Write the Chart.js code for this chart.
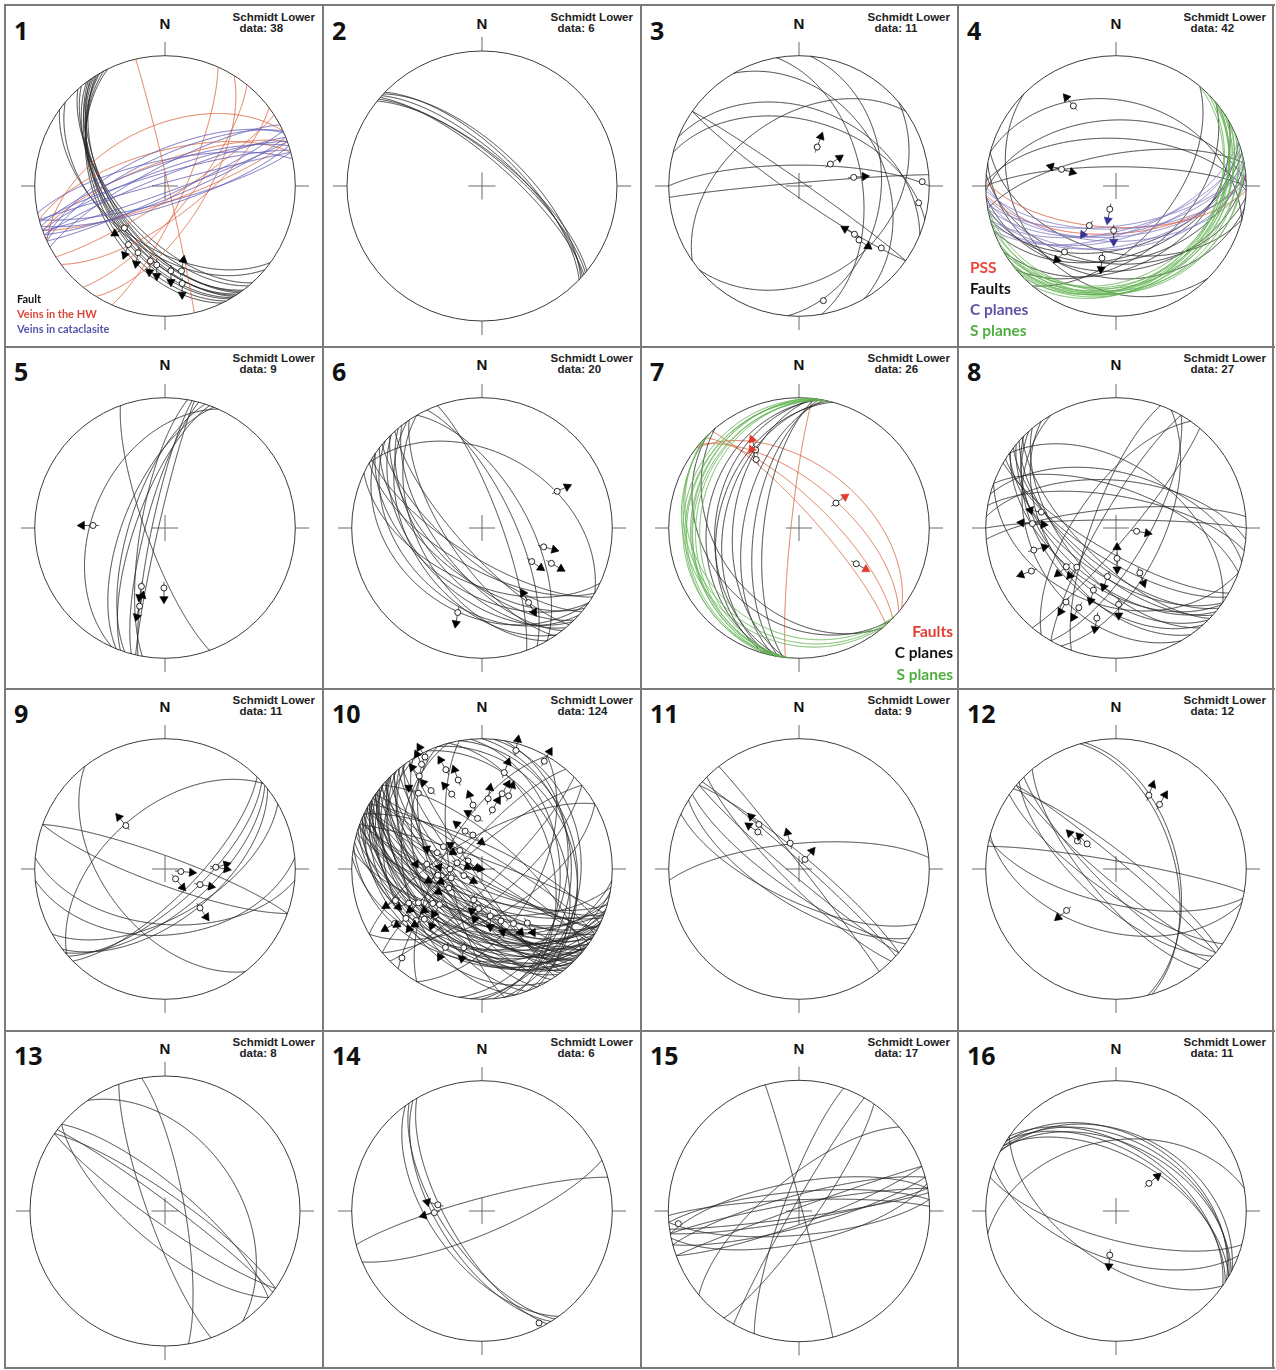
<!DOCTYPE html>
<html>
<head>
<meta charset="utf-8">
<script src="https://cdn.jsdelivr.net/npm/chart.js@4.4.1/dist/chart.umd.min.js"></script>
<style>
  body { margin: 0; background: #fff; }
  #page { position: relative; width: 1276px; height: 1370px; background: #fff; overflow: hidden; }
  .box { position: absolute; }
  .ln { position: absolute; background: #7a7a7a; }
</style>
</head>
<body>
<div id="page"></div>
<script>
// planes are [dip direction, dip], lineations are [trend, plunge, arrow azimuth, second arrow azimuth]
const p1Fault = [[238,55],[236,52],[240,50],[235,57],[233,54],[242,48],[230,58],[237,53],[239,51],[228,60],[244,46],[234,56],[220,50],[216,52]];
const p1VeinHW = [[77,88],[114,78],[129,74],[143,70],[147,82],[335,52],[340,75],[160,80],[122,65],[345,68]];
const p1VeinCat = [[340,80],[338,84],[342,76],[160,86],[158,82],[335,72],[345,88],[162,78],[336,68],[344,82],[155,84],[348,74],[332,78],[165,80]];
const p1Lin = [[224,53,240],[212,46,200],[202,44,190],[191,41,185],[186,39,180],[176,35,180],[170,25,180],[169,34,10]];

const p2Planes = [[42,70],[40,72],[44,68],[41,74],[43,66],[39,71]];

const p3Planes = [[35,87],[215,84],[0,77],[355,88],[15,48],[22,40],[60,35],[95,37],[80,50],[325,46],[140,30]];
const p3Lin = [[25,63,20],[55,66,55],[81,55,85],[88,6,null],[98,8,null],[131,43,300],[132,38,125],[127,22,null],[168,11,null]];

const p4PSS = [[182,64],[176,60]];
const p4Fault = [[0,78],[2,60],[358,48],[15,35],[225,25],[150,38],[160,45],[170,42],[165,50],[185,40],[175,35],[140,45],[195,48],[130,55],[350,70],[190,30]];
const p4CPlane = [[170,60],[175,58],[165,62],[180,55],[172,65],[168,52],[160,60],[178,63],[163,57],[174,50]];
const p4SPlane = [[140,25],[145,22],[150,24],[135,28],[155,20],[142,26],[148,30],[138,23],[152,27],[165,19],[160,24],[130,26],[170,21],[143,28]];
const p4LinFault = [[332,31,320],[287,54,285,105],[218,36,225],[191,43,185]];
const p4LinC = [[195,75,190],[214,60,215],[183,62,180]];

const p5Planes = [[282,82],[285,78],[290,72],[288,68],[280,75],[292,64],[283,86],[250,78],[294,44]];
const p5Lin = [[272,44,270],[202,50,190],[181,52,180],[198,37,195,15]];

const p6Planes = [[30,42],[220,70],[225,60],[230,55],[215,50],[235,45],[210,65],[228,75],[222,40],[232,62],[218,58],[240,50],[212,72],[226,48],[236,68],[205,55],[65,70],[70,78],[60,62],[215,35]];
const p6Lin = [[64,36,65],[107,49,105],[124,52,125],[117,40,120],[148,33,330,150],[196,33,190]];

const p7Fault = [[40,62],[44,72],[38,50],[48,80],[276,85]];
const p7CPlane = [[280,30],[278,36],[283,42],[276,48],[281,55],[285,38],[279,62],[225,30],[277,68],[230,38]];
const p7SPlane = [[278,12],[280,15],[276,18],[282,20],[279,22],[284,14],[277,25],[225,18],[222,22],[228,15],[274,19]];
const p7Lin = [[56,62,55],[122,47,120],[331,32,340],[328,38,335]];

const p8Planes = [[215,60],[220,55],[225,50],[218,65],[212,70],[228,45],[222,62],[230,58],[216,52],[210,75],[235,48],[224,68],[290,75],[305,65],[115,60],[10,70],[5,60],[355,78],[15,55],[0,85],[20,65],[300,80],[120,70],[130,82],[35,50],[200,40],[240,35]];
const p8Lin = [[282,41,280],[273,36,275,95],[99,77,100],[178,71,0,180],[243,28,250],[255,35,75],[225,55,220],[232,50,230],[190,59,200],[152,58,160],[200,48,195],[214,32,210],[192,30,190],[205,33,210],[178,41,180]];

const p9Planes = [[232,52],[319,52],[138,68],[140,63],[135,72],[142,58],[20,82],[200,80],[185,55],[175,48],[150,60]];
const p9Lin = [[318,53,320],[99,80,95],[133,81,140],[114,66,100],[88,58,100,75],[138,57,145]];

const p10Planes = [[200,45],[205,50],[210,55],[215,60],[220,65],[225,70],[230,75],[198,40],[203,48],[208,58],[212,62],[218,52],[222,68],[227,72],[232,80],[236,85],[195,55],[200,62],[206,66],[211,42],[216,38],[221,35],[226,46],[231,54],[196,72],[201,78],[207,82],[213,88],[219,76],[224,58],[229,44],[234,50],[238,64],[204,36],[209,30],[214,33],[199,68],[217,47],[223,57],[228,61],[233,69],[202,74],[208,84],[215,56],[220,43],[225,39],[210,71],[205,59],[218,64],[212,49],[30,80],[25,75],[35,86],[40,70],[20,84],[70,30],[80,28],[90,32],[100,35],[85,40],[75,45],[95,25],[65,38],[140,70],[150,60],[135,80],[320,78],[330,70],[250,50],[245,60],[255,40],[260,70],[240,30],[190,30],[185,38],[192,50],[188,62],[300,65],[310,75],[120,55]];
const p10Lin = [[333,4,330],[330,8,335],[326,15,320],[327,29,315],[320,25,300],[340,20,330],[345,30,340],[338,38,320],[352,49,340],[5,45,10],[10,52,30],[355,58,300],[336,64,310],[345,68,130],[20,40,20],[15,40,30],[16,6,10],[30,5,30],[13,25,20],[284,74,110],[270,70,280],[254,70,250],[290,60,290],[300,62,120],[275,55,270],[262,62,240],[310,72,300],[250,78,120],[240,66,250],[300,80,130],[280,82,100],[242,44,230],[237,31,235],[229,41,240],[232,36,220],[245,38,250],[250,30,240],[225,48,200],[235,52,230],[238,22,240],[222,9,null],[230,55,210],[193,38,190],[205,34,210],[170,60,180],[160,55,170],[150,50,140],[140,45,150],[185,65,200],[195,70,190]];

const p11Planes = [[52,88],[40,82],[42,86],[220,85],[215,76],[212,68],[205,70],[355,74],[225,80]];
const p11Lin = [[318,52,315],[312,55,305],[341,73,345],[32,83,40]];

const p12Planes = [[76,51],[74,53],[220,82],[225,78],[40,85],[215,75],[230,72],[38,80],[222,68],[10,85],[193,68],[195,50]];
const p12Lin = [[24,38,20],[34,40,30],[311,66,315],[306,60,315],[230,49,230]];

const p13Planes = [[37,85],[35,80],[215,82],[40,75],[220,70],[55,45],[250,80],[80,78]];

const p14Planes = [[236,65],[238,62],[240,68],[157,76],[345,82],[234,58]];
const p14Lin = [[278,62,285],[268,60,255],[153,4,null]];

const p15Planes = [[350,85],[345,80],[170,84],[165,80],[355,78],[175,75],[340,88],[160,82],[350,72],[168,70],[358,83],[172,86],[75,88],[290,80],[125,80],[320,70],[300,86]];
const p15Lin = [[264,8,null]];

const p16Planes = [[30,45],[32,42],[28,48],[35,50],[27,40],[33,53],[30,56],[195,72],[215,58],[350,45],[200,60]];
const p16Lin = [[50,63,50],[188,62,185]];

const dataCounts = [38, 6, 11, 42, 9, 20, 26, 27, 11, 124, 9, 12, 8, 6, 17, 11];

const BLACK = '#262626';
const RED = '#d9653f';
const BLUE = '#5d59b2';
const PSSRED = '#e0573f';
const CPURP = '#7f77bf';
const SGREEN = '#63b352';

const panels = [
  { sets: [[p1VeinCat, BLUE], [p1VeinHW, RED], [p1Fault, BLACK]], lins: [[p1Lin, '#000']] },
  { sets: [[p2Planes, BLACK]], lins: [] },
  { sets: [[p3Planes, BLACK]], lins: [[p3Lin, '#000']] },
  { sets: [[p4SPlane, SGREEN], [p4CPlane, CPURP], [p4PSS, PSSRED], [p4Fault, BLACK]], lins: [[p4LinFault, '#000'], [p4LinC, '#3a3396']] },
  { sets: [[p5Planes, BLACK]], lins: [[p5Lin, '#000']] },
  { sets: [[p6Planes, BLACK]], lins: [[p6Lin, '#000']] },
  { sets: [[p7SPlane, SGREEN], [p7CPlane, BLACK], [p7Fault, RED]], lins: [[p7Lin, '#e03a2c']] },
  { sets: [[p8Planes, BLACK]], lins: [[p8Lin, '#000']] },
  { sets: [[p9Planes, BLACK]], lins: [[p9Lin, '#000']] },
  { sets: [[p10Planes, BLACK]], lins: [[p10Lin, '#000']] },
  { sets: [[p11Planes, BLACK]], lins: [[p11Lin, '#000']] },
  { sets: [[p12Planes, BLACK]], lins: [[p12Lin, '#000']] },
  { sets: [[p13Planes, BLACK]], lins: [] },
  { sets: [[p14Planes, BLACK]], lins: [[p14Lin, '#000']] },
  { sets: [[p15Planes, BLACK]], lins: [[p15Lin, '#000']] },
  { sets: [[p16Planes, BLACK]], lins: [[p16Lin, '#000']] }
];

const colLeft = [5, 323, 641, 958];
const colRight = [323, 641, 958, 1274];
const rowTop = [6, 347, 689, 1031];
const centerX = [165, 482, 799, 1116];
const centerY = [186, 528, 869, 1211];
const R = 135;
const HALF = 155;
const LIM = HALF / R;

const page = document.getElementById('page');
const D2R = Math.PI / 180;

// equal-area (Schmidt) lower hemisphere
function project(trend, plunge) {
  const r = Math.SQRT2 * Math.sin((90 - plunge) * D2R / 2);
  return { x: r * Math.sin(trend * D2R), y: r * Math.cos(trend * D2R) };
}

function greatCircle(dd, dip) {
  const s = (dd - 90) * D2R, a = dd * D2R, d = dip * D2R;
  const S = [Math.sin(s), Math.cos(s), 0];
  const Dv = [Math.cos(d) * Math.sin(a), Math.cos(d) * Math.cos(a), Math.sin(d)];
  const pts = [];
  for (let k = 0; k <= 120; k++) {
    const l = k * 1.5 * D2R;
    const e = Math.cos(l) * S[0] + Math.sin(l) * Dv[0];
    const n = Math.cos(l) * S[1] + Math.sin(l) * Dv[1];
    const z = Math.cos(l) * S[2] + Math.sin(l) * Dv[2];
    const pl = Math.asin(Math.max(-1, Math.min(1, z))) / D2R;
    const tr = Math.atan2(e, n) / D2R;
    pts.push(project(tr, pl));
  }
  return pts;
}

const framePlugin = {
  id: 'stereoFrame',
  beforeDatasetsDraw(chart) {
    const { ctx, scales: { x, y } } = chart;
    const X = v => x.getPixelForValue(v), Y = v => y.getPixelForValue(v);
    const seg = (a, b, c, d) => { ctx.beginPath(); ctx.moveTo(X(a), Y(b)); ctx.lineTo(X(c), Y(d)); ctx.stroke(); };
    ctx.save();
    ctx.strokeStyle = '#6a6a6a';
    ctx.lineWidth = 1;
    seg(0, 1, 0, 1.105); seg(0, -1, 0, -1.105); seg(1, 0, 1.105, 0); seg(-1, 0, -1.105, 0);
    seg(-0.1, 0, 0.1, 0); seg(0, -0.1, 0, 0.1);
    ctx.strokeStyle = '#3a3a3a';
    ctx.beginPath();
    ctx.arc(X(0), Y(0), X(1) - X(0), 0, 2 * Math.PI);
    ctx.stroke();
    ctx.restore();
  }
};

function addText(x, base, str, size, family, weight, color, align) {
  const k = family.indexOf('Liberation') >= 0 ? 0.8465 : 0.888;
  const d = document.createElement('div');
  d.textContent = str;
  d.style.cssText = 'position:absolute;white-space:nowrap;font-family:' + family + ';font-size:' + size + 'px;font-weight:' + weight +
    ';line-height:' + size + 'px;color:' + color + ';top:' + (base - k * size) + 'px;';
  if (align === 'right') d.style.right = (1276 - x) + 'px';
  else if (align === 'center') { d.style.left = (x - 50) + 'px'; d.style.width = '100px'; d.style.textAlign = 'center'; }
  else d.style.left = x + 'px';
  page.appendChild(d);
}

function addLine(x, y, w, h) {
  const d = document.createElement('div');
  d.className = 'ln';
  d.style.left = x + 'px'; d.style.top = y + 'px'; d.style.width = w + 'px'; d.style.height = h + 'px';
  page.appendChild(d);
}

// panel frames
[5, 323, 641, 958, 1273].forEach(x => addLine(x - 0.75, 5, 1.5, 1364));
[5, 347, 689, 1031, 1368].forEach(y => addLine(4, y - 0.75, 1271, 1.5));

panels.forEach((p, i) => {
  const r = Math.floor(i / 4), c = i % 4;
  const top = rowTop[r];
  const cx = centerX[c], cy = centerY[r];

  addText(colLeft[c] + 9, top + 34, String(i + 1), 25, '"Open Sans", sans-serif', 700, '#111', 'left');
  addText(cx, top + 23, 'N', 15, '"Liberation Sans", Arial, sans-serif', 700, '#111', 'center');
  const hd = document.createElement('div');
  hd.style.cssText = 'position:absolute;font-family:"Liberation Sans",Arial,sans-serif;font-weight:700;font-size:11.5px;line-height:11px;color:#222;white-space:nowrap;top:' + (top + 5.5) + 'px;right:' + (1276 - (colRight[c] - 8)) + 'px;';
  hd.innerHTML = 'Schmidt Lower<br><span style="padding-left:7px">data: ' + dataCounts[i] + '</span>';
  page.appendChild(hd);

  const box = document.createElement('div');
  box.className = 'box';
  box.style.left = (cx - HALF) + 'px';
  box.style.top = (cy - HALF) + 'px';
  const cv = document.createElement('canvas');
  cv.width = 2 * HALF; cv.height = 2 * HALF;
  box.appendChild(cv);
  page.appendChild(box);

  const datasets = [];
  p.sets.forEach(([planes, color]) => {
    planes.forEach(([dd, dip]) => {
      // small tension keeps Chart.js off its fast path, which breaks non-monotonic curves
      datasets.push({ data: greatCircle(dd, dip), showLine: true, borderColor: color, borderWidth: 0.9,
        pointRadius: 0, tension: 0.01, order: 3 });
    });
  });
  p.lins.forEach(([lins, color]) => {
    const centers = [], heads = [], rots = [];
    lins.forEach(([tr, pl, a1, a2]) => {
      const P = project(tr, pl);
      centers.push(P);
      [a1, a2].forEach(a => {
        if (a === null || a === undefined) return;
        const hx = P.x + 0.085 * Math.sin(a * D2R), hy = P.y + 0.085 * Math.cos(a * D2R);
        const tx = P.x - 0.045 * Math.sin(a * D2R), ty = P.y - 0.045 * Math.cos(a * D2R);
        datasets.push({ data: [{ x: tx, y: ty }, { x: hx, y: hy }], showLine: true, borderColor: '#222',
          borderWidth: 0.8, pointRadius: 0, tension: 0.01, order: 2 });
        heads.push({ x: hx, y: hy });
        rots.push(a);
      });
    });
    datasets.push({ data: centers, showLine: false, pointStyle: 'circle', pointRadius: 3,
      pointBackgroundColor: '#fff', pointBorderColor: '#111', pointBorderWidth: 0.9, order: 1 });
    datasets.push({ data: heads, showLine: false, pointStyle: 'triangle', pointRadius: 4.8,
      pointRotation: rots, pointBackgroundColor: color, pointBorderColor: color, pointBorderWidth: 0.6, order: 0 });
  });

  new Chart(cv, {
    type: 'scatter',
    data: { datasets },
    options: {
      responsive: false,
      animation: false,
      events: [],
      layout: { padding: 0 },
      plugins: { legend: { display: false }, tooltip: { enabled: false } },
      scales: {
        x: { type: 'linear', min: -LIM, max: LIM, display: false },
        y: { type: 'linear', min: -LIM, max: LIM, display: false }
      }
    },
    plugins: [framePlugin]
  });
});

// legends
addText(17, 303, 'Fault', 11, 'Lato, sans-serif', 700, '#111', 'left');
addText(17, 318, 'Veins in the HW', 11, 'Lato, sans-serif', 700, '#d9473a', 'left');
addText(17, 333, 'Veins in cataclasite', 11, 'Lato, sans-serif', 700, '#5656b0', 'left');

addText(970, 274, 'PSS', 15.5, 'Lato, sans-serif', 700, '#e8473b', 'left');
addText(970, 295, 'Faults', 15.5, 'Lato, sans-serif', 700, '#111', 'left');
addText(970, 316, 'C planes', 15.5, 'Lato, sans-serif', 700, '#5c54a4', 'left');
addText(970, 337, 'S planes', 15.5, 'Lato, sans-serif', 700, '#4fae3f', 'left');

addText(953, 638, 'Faults', 15.5, 'Lato, sans-serif', 700, '#e03c31', 'right');
addText(953, 659, 'C planes', 15.5, 'Lato, sans-serif', 700, '#111', 'right');
addText(953, 681, 'S planes', 15.5, 'Lato, sans-serif', 700, '#4fae3f', 'right');
</script>
</body>
</html>
